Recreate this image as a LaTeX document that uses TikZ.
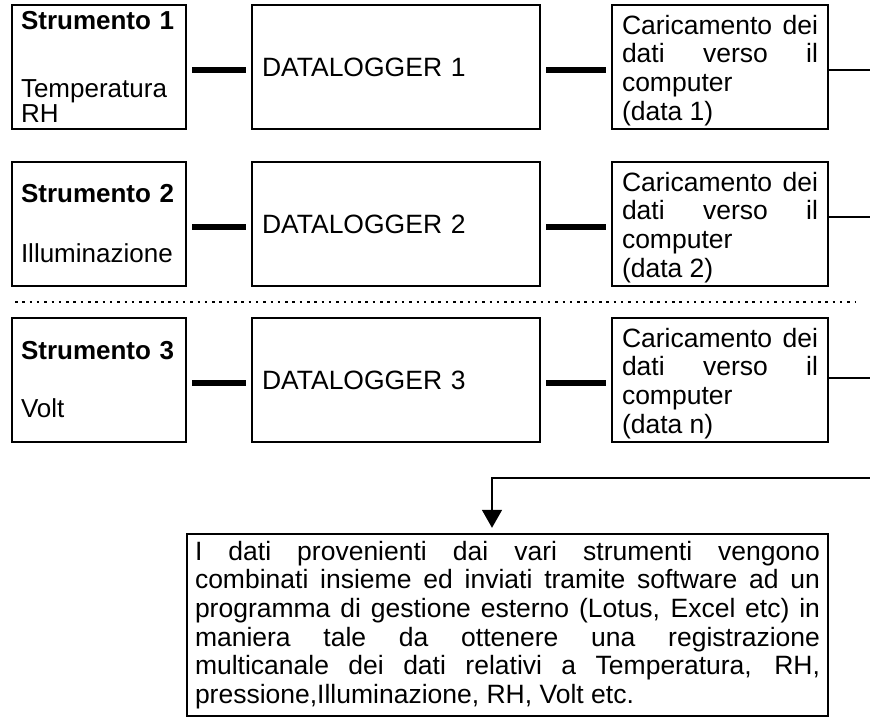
\documentclass[tikz,border=0pt]{standalone}
\usepackage{fontspec}
\setmainfont{Liberation Sans}
\usetikzlibrary{arrows.meta}
\hbadness=10000

\begin{document}
\begin{tikzpicture}[
    x=1pt,y=-1pt,
    font=\fontsize{26.5}{28.7}\selectfont,
    strbox/.style={draw,line width=2.4pt,minimum width=174pt,minimum height=124pt,inner xsep=9pt,text width=156pt,align=left,font=\fontsize{26}{25}\selectfont},
    dlbox/.style={draw,line width=2.4pt,minimum width=288pt,minimum height=124pt,inner xsep=10pt,text width=268pt,align=left},
    upbox/.style={draw,line width=2.4pt,minimum width=216pt,minimum height=124pt,inner xsep=10pt,text width=196pt,text height=26pt,align=justify},
    resbox/.style={draw,line width=2.4pt,minimum width=641pt,minimum height=182pt,inner xsep=8pt,text width=625pt,align=justify},
    dl/.style={line width=6pt,shorten <=5pt,shorten >=5pt},
    pc/.style={line width=1.6pt},
    sep/.style={line width=2.5pt,dash pattern=on 2.5pt off 4.8pt}
]
    \useasboundingbox (0,0) rectangle (870,720);
    % --- one row per instrument: instrument, datalogger, upload to pc ---
    \foreach \r/\y/\gap/\meas/\dat/\dy in {1/67/43/{Temperatura\\RH}/1/-3, 2/224/35/Illuminazione/2/7, 3/380/33/Volt/n/2} {
        \node[strbox] (s\r) at (99,\y) {\textbf{Strumento \r}\\[\gap pt]\meas};
        \node[dlbox]  (d\r) at (396,\y) {DATALOGGER \r};
        \node[upbox]  (c\r) at (720,\y) {Caricamento dei\linebreak dati verso il\linebreak computer\newline (data \dat)};
        \draw[dl] ([yshift=-3pt]s\r.east) -- ([yshift=-3pt]d\r.west);
        \draw[dl] ([yshift=-3pt]d\r.east) -- ([yshift=-3pt]c\r.west);
        % lines leaving to the right edge
        \coordinate (o\r) at ([yshift=\dy pt]870,\y);
        \draw[pc] (c\r.east |- o\r) -- (o\r);
    }
    % dotted separator (more instruments)
    \draw[sep] (15,302) -- (855,302);
    % combined result
    \node[resbox] (res) at (507.5,625) {I dati provenienti dai vari strumenti vengono\linebreak combinati insieme ed inviati tramite software ad un\linebreak programma di gestione esterno (Lotus, Excel etc) in\linebreak maniera tale da ottenere una registrazione\linebreak multicanale dei dati relativi a Temperatura, RH,\linebreak pressione,Illuminazione, RH, Volt etc.};
    \coordinate (feed) at (870,478);
    \draw[pc,-{Triangle[length=18pt,width=20pt]},shorten >=5pt] (feed) -| ([xshift=-15.5pt]res.north);
\end{tikzpicture}
\end{document}
